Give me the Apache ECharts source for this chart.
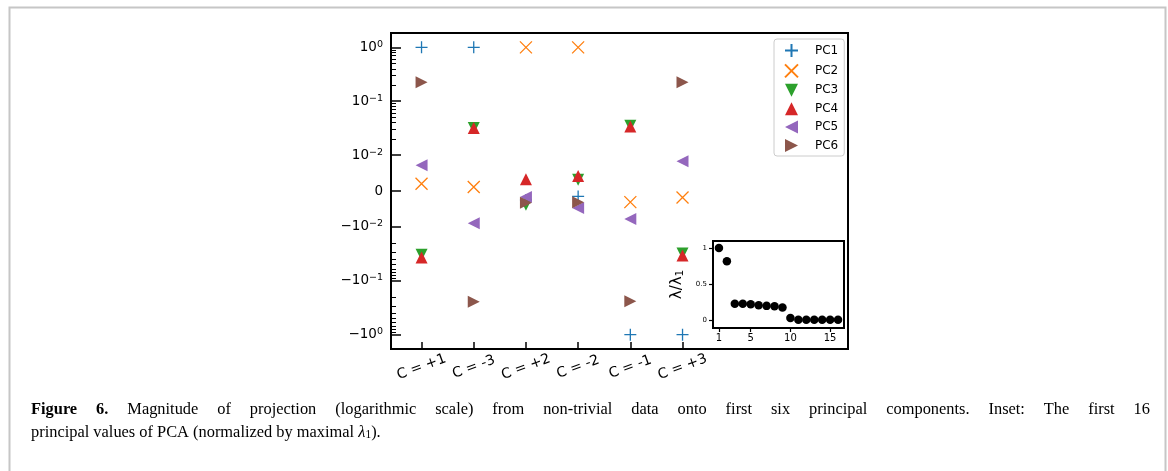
<!DOCTYPE html>
<html>
<head>
<meta charset="utf-8">
<script src="https://cdn.jsdelivr.net/npm/echarts@6/dist/echarts.min.js"></script>
<style>
  html, body { margin: 0; padding: 0; background: #fff; }
  #main { width: 1168px; height: 471px; }
</style>
</head>
<body>
<div id="main"></div>
<script>
// categories on the x axis
var categories = ['C = +1', 'C = -3', 'C = +2', 'C = -2', 'C = -1', 'C = +3'];

// projections per principal component (raw values, symlog axis)
var pc1 = [1, 1, -0.0025, -0.0015, -1, -1];
var pc2 = [0.002, 0.0011, 1, 1, -0.0031, -0.0018];
var pc3 = [-0.033, 0.032, -0.0038, 0.0031, 0.035, -0.031];
var pc4 = [-0.037, 0.032, 0.0033, 0.0042, 0.034, -0.034];
var pc5 = [0.0072, -0.009, -0.0017, -0.0047, -0.0078, 0.0083];
var pc6 = [0.225, -0.245, -0.0033, -0.0031, -0.24, 0.225];

// inset: first 16 principal values, normalized
var eigIdx = [1, 2, 3, 4, 5, 6, 7, 8, 9, 10, 11, 12, 13, 14, 15, 16];
var eigVal = [1, 0.817, 0.225, 0.225, 0.22, 0.206, 0.197, 0.193, 0.174, 0.028, 0.004, 0.004, 0.004, 0.004, 0.004, 0.004];

// y tick values and labels
var yTickVals = [1, 0.1, 0.01, 0, -0.01, -0.1, -1];
var yTickLabels = ['{b|10}{s|0}', '{b|10}{s|\u22121}', '{b|10}{s|\u22122}', '{b|0}',
                   '{b|\u221210}{s|\u22122}', '{b|\u221210}{s|\u22121}', '{b|\u221210}{s|0}'];
var insetXTicks = [1, 5, 10, 15];
var insetYTicks = [0, 0.5, 1];

var caption1 = 'Magnitude of projection (logarithmic scale) from non-trivial data onto first six principal components. Inset: The first 16';

// symlog transform, linthresh 0.01
var LT = 0.01, LS = 2 / 3;
function symlog(v) {
  var a = Math.abs(v);
  var t = a < LT ? a / LT * LS : Math.log10(a / LT) + LS;
  return v < 0 ? -t : t;
}

var yMajor = yTickVals.map(symlog);
var yMinor = [];
[0.01, 0.1].forEach(function (d) {
  for (var k = 2; k <= 9; k++) {
    yMinor.push(symlog(k * d));
    yMinor.push(symlog(-k * d));
  }
});
var yMax = symlog(1) * 1.1;

var colors = ['#1f77b4', '#ff7f0e', '#2ca02c', '#d62728', '#9467bd', '#8c564b'];
var symbols = [
  'path://M0,-1L0,1M-1,0L1,0',
  'path://M-1,-1L1,1M-1,1L1,-1',
  'path://M-1,-1L1,-1L0,1Z',
  'path://M0,-1L1,1L-1,1Z',
  'path://M-1,0L1,-1L1,1Z',
  'path://M1,0L-1,-1L-1,1Z'
];
var names = ['PC1', 'PC2', 'PC3', 'PC4', 'PC5', 'PC6'];
var pcs = [pc1, pc2, pc3, pc4, pc5, pc6];

var series = pcs.map(function (arr, i) {
  var stroked = i < 2;
  return {
    name: names[i],
    type: 'scatter',
    xAxisIndex: 0,
    yAxisIndex: 0,
    symbol: symbols[i],
    symbolSize: 12,
    data: arr.map(function (v, j) { return [j, symlog(v)]; }),
    itemStyle: stroked
      ? { color: 'rgba(0,0,0,0)', borderColor: colors[i], borderWidth: 1.3, opacity: 1 }
      : { color: colors[i], opacity: 1 },
    z: 2 + i
  };
});

series.push({
  type: 'scatter',
  xAxisIndex: 1,
  yAxisIndex: 2,
  symbolSize: 8.5,
  data: eigIdx.map(function (x, i) { return [x, eigVal[i]]; }),
  itemStyle: { color: '#000', opacity: 1 },
  z: 20
});

// justified first caption line
var capFont = '16.4px "Liberation Serif"';
var capBold = 'bold 16.4px "Liberation Serif"';
var ctx = document.createElement('canvas').getContext('2d');
function textW(t, f) { ctx.font = f; return ctx.measureText(t).width; }
var words = [{ t: 'Figure', f: capBold }, { t: '6.', f: capBold }].concat(
  caption1.split(' ').map(function (t) { return { t: t, f: capFont }; }));
var totalW = 0;
words.forEach(function (wd) { wd.w = textW(wd.t, wd.f); totalW += wd.w; });
var gap = (1150 - 31 - totalW) / (words.length - 1);
var xPos = 31;
var captionEls = words.map(function (wd) {
  var el = {
    type: 'text', x: xPos, y: 410, silent: true,
    style: { text: wd.t, font: wd.f, fill: '#000', align: 'left', verticalAlign: 'middle' }
  };
  xPos += wd.w + gap;
  return el;
});

var chart = echarts.init(document.getElementById('main'));
var option = {
  animation: false,
  backgroundColor: '#fff',
  grid: [
    { left: 391, top: 33, width: 457, height: 316, show: true, borderColor: '#000', borderWidth: 2, backgroundColor: 'rgba(0,0,0,0)' },
    { left: 713, top: 241, width: 131, height: 87, show: true, borderColor: '#000', borderWidth: 2, backgroundColor: '#fff', z: 10 }
  ],
  legend: {
    orient: 'vertical',
    left: 774,
    top: 39,
    itemWidth: 13,
    itemHeight: 13,
    itemGap: 5.4,
    padding: [4, 6, 4, 10],
    borderColor: '#cccccc',
    borderWidth: 1,
    borderRadius: 3,
    backgroundColor: '#fff',
    data: names,
    textStyle: { fontFamily: 'DejaVu Sans', fontSize: 12, color: '#000', padding: [0, 0, 0, 12] }
  },
  xAxis: [
    {
      type: 'value', gridIndex: 0, min: -0.585, max: 8.17,
      axisLine: { show: false, onZero: false },
      splitLine: { show: false },
      axisTick: { inside: true, length: 7, customValues: [0, 1, 2, 3, 4, 5], lineStyle: { color: '#000', width: 1.5 } },
      axisLabel: {
        customValues: [0, 1, 2, 3, 4, 5],
        formatter: function (v) { return categories[Math.round(v)]; },
        rotate: 20, align: 'center', verticalAlign: 'middle', margin: 18,
        fontFamily: 'DejaVu Sans', fontSize: 14, color: '#000'
      }
    },
    {
      type: 'value', gridIndex: 1, min: 0.25, max: 16.75,
      axisLine: { show: false, onZero: false },
      splitLine: { show: false },
      axisTick: { inside: false, length: 4, customValues: insetXTicks, lineStyle: { color: '#000', width: 1.2 } },
      axisLabel: { customValues: insetXTicks, margin: 5, fontFamily: 'DejaVu Sans', fontSize: 10, color: '#000' }
    }
  ],
  yAxis: [
    {
      type: 'value', gridIndex: 0, min: -yMax, max: yMax,
      axisLine: { show: false, onZero: false },
      splitLine: { show: false },
      axisTick: { inside: true, length: 10, customValues: yMajor, lineStyle: { color: '#000', width: 1.5 } },
      axisLabel: {
        customValues: yMajor,
        margin: 8,
        formatter: function (v) {
          var best = 0;
          for (var i = 1; i < yMajor.length; i++) {
            if (Math.abs(yMajor[i] - v) < Math.abs(yMajor[best] - v)) best = i;
          }
          return yTickLabels[best];
        },
        color: '#000',
        rich: {
          b: { fontFamily: 'DejaVu Sans', fontSize: 13.5, lineHeight: 16, color: '#000' },
          s: { fontFamily: 'DejaVu Sans', fontSize: 9.5, lineHeight: 9, verticalAlign: 'top', color: '#000' }
        }
      }
    },
    {
      type: 'value', gridIndex: 0, min: -yMax, max: yMax, position: 'left',
      axisLine: { show: false, onZero: false },
      splitLine: { show: false },
      axisLabel: { show: false },
      axisTick: { inside: true, length: 5, customValues: yMinor, lineStyle: { color: '#000', width: 1 } }
    },
    {
      type: 'value', gridIndex: 1, min: -0.11, max: 1.097,
      axisLine: { show: false, onZero: false },
      splitLine: { show: false },
      axisTick: { inside: false, length: 4, customValues: insetYTicks, lineStyle: { color: '#000', width: 1.2 } },
      axisLabel: { customValues: insetYTicks, margin: 6, fontFamily: 'DejaVu Sans', fontSize: 7, color: '#000' },
      name: '{a|λ/λ}{s|1}', nameLocation: 'middle', nameGap: 27, nameRotate: 90,
      nameTextStyle: {
        color: '#000',
        rich: {
          a: { fontFamily: 'DejaVu Sans', fontSize: 15, lineHeight: 18, color: '#000' },
          s: { fontFamily: 'DejaVu Sans', fontSize: 10.5, lineHeight: 10, verticalAlign: 'bottom', color: '#000' }
        }
      }
    }
  ],
  graphic: [
    { type: 'rect', left: 7, top: 5, shape: { width: 1156, height: 480 }, style: { fill: 'none', stroke: '#c6c6c6', lineWidth: 2 }, silent: true },
    {
      type: 'text', x: 31, y: 433, silent: true,
      style: {
        text: 'principal values of PCA (normalized by maximal {i|λ}{sub|1}).',
        font: capFont, fill: '#000', verticalAlign: 'middle',
        rich: {
          i: { fontFamily: 'Liberation Serif', fontSize: 16.4, fontStyle: 'italic', fill: '#000' },
          sub: { fontFamily: 'Liberation Serif', fontSize: 11.5, verticalAlign: 'bottom', fill: '#000' }
        }
      }
    }
  ].concat(captionEls),
  series: series
};
chart.setOption(option);
window.addEventListener('resize', function () {
  chart.resize();
});
</script>
</body>
</html>
